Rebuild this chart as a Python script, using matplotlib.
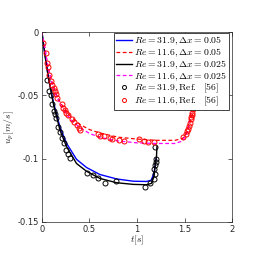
import numpy as np
import matplotlib
matplotlib.use('Agg')
import matplotlib.pyplot as plt

plt.rcParams['mathtext.fontset'] = 'cm'
plt.rcParams['font.family'] = ['DejaVu Sans']

# simulation, Re = 31.9, dx = 0.05
t_b = [0, 0.03, 0.067, 0.12, 0.19, 0.26, 0.364, 0.47, 0.61, 0.785, 0.96, 1.1, 1.15, 1.18, 1.19, 1.2]
u_b = [0, -0.017, -0.035, -0.055, -0.075, -0.088, -0.1005, -0.107, -0.1125, -0.116, -0.1178,
       -0.118, -0.117, -0.111, -0.106, -0.100]
# simulation, Re = 31.9, dx = 0.025
t_k = [0, 0.03, 0.067, 0.12, 0.19, 0.26, 0.364, 0.47, 0.61, 0.785, 0.96, 1.1, 1.152, 1.18, 1.19, 1.205, 1.21]
u_k = [0, -0.017, -0.0355, -0.0565, -0.0775, -0.0906, -0.1038, -0.110, -0.1156, -0.119, -0.1203,
       -0.1206, -0.1195, -0.114, -0.106, -0.0985, -0.0906]
# simulation, Re = 11.6, dx = 0.05
t_r = [0, 0.03, 0.06, 0.1, 0.15, 0.2, 0.3, 0.4, 0.5, 0.6, 0.8, 1.0, 1.2, 1.4, 1.48, 1.52, 1.55, 1.58, 1.6]
u_r = [0, -0.012, -0.026, -0.038, -0.049, -0.0565, -0.0665, -0.073, -0.077, -0.0795, -0.083,
       -0.0845, -0.0855, -0.0855, -0.084, -0.080, -0.073, -0.066, -0.061]
# simulation, Re = 11.6, dx = 0.025
t_m = [0, 0.03, 0.06, 0.1, 0.15, 0.2, 0.3, 0.4, 0.5, 0.6, 0.8, 1.0, 1.2, 1.4, 1.48, 1.52, 1.54, 1.56, 1.57]
u_m = [0, -0.012, -0.026, -0.039, -0.050, -0.058, -0.069, -0.0755, -0.080, -0.083, -0.086,
       -0.0875, -0.088, -0.088, -0.086, -0.081, -0.075, -0.067, -0.062]

# Ref. [56] experiments
t_e1 = [0.056, 0.077, 0.095, 0.109, 0.123, 0.137, 0.147, 0.172, 0.193, 0.214, 0.228, 0.256, 0.277,
        0.298, 0.476, 0.539, 0.585, 0.662, 0.778, 1.089, 1.142, 1.177, 1.19, 1.18, 1.19, 1.198, 1.205, 1.194]
u_e1 = [-0.0376, -0.0465, -0.050, -0.057, -0.062, -0.065, -0.068, -0.075, -0.079, -0.0835, -0.088,
        -0.093, -0.0964, -0.0996, -0.111, -0.113, -0.115, -0.119, -0.118, -0.1224, -0.119, -0.116,
        -0.112, -0.1085, -0.105, -0.1027, -0.1006, -0.0906]
t_e2 = [0.01, 0.039, 0.049, 0.06, 0.077, 0.091, 0.109, 0.13, 0.14, 0.147, 0.154, 0.207, 0.224, 0.242,
        0.256, 0.273, 0.312, 0.336, 0.364, 0.392, 0.4, 0.585, 0.606, 0.655, 0.715, 0.736, 0.813, 0.862,
        1.023, 1.079, 1.117, 1.184, 1.485, 1.513, 1.531, 1.541, 1.548, 1.559, 1.569, 1.573, 1.583,
        1.583, 1.59]
u_e2 = [-0.0087, -0.0168, -0.0244, -0.0276, -0.0336, -0.039, -0.042, -0.044, -0.0468, -0.049, -0.0517,
        -0.057, -0.0596, -0.0617, -0.0636, -0.0657, -0.069, -0.0712, -0.0733, -0.0754, -0.0775, -0.0806,
        -0.0822, -0.0822, -0.0833, -0.0848, -0.0854, -0.0859, -0.0843, -0.0864, -0.087, -0.087, -0.0827,
        -0.0806, -0.078, -0.0762, -0.0738, -0.0717, -0.069, -0.067, -0.0657, -0.0638, -0.0607]

labels = [r'$Re=31.9, \Delta x=0.05$', r'$Re=11.6, \Delta x=0.05$',
          r'$Re=31.9, \Delta x=0.025$', r'$Re=11.6, \Delta x=0.025$',
          r'$Re=31.9, \mathrm{Ref.}\ \ [56]$', r'$Re=11.6, \mathrm{Ref.}\ \ [56]$']

fig = plt.figure(figsize=(2.57, 2.63), dpi=100)
ax = fig.add_axes([0.163, 0.156, 0.740, 0.722])

ax.plot(t_b, u_b, '-', color='blue', lw=1.0, label=labels[0])
ax.plot(t_r, u_r, '--', color='red', lw=0.9, dashes=(3, 2), label=labels[1])
ax.plot(t_k, u_k, '-', color='black', lw=1.0, label=labels[2])
ax.plot(t_m, u_m, '--', color='magenta', lw=0.9, dashes=(3, 2), label=labels[3])
ax.plot(t_e1, u_e1, 'o', mfc='none', mec='black', ms=3.6, mew=0.7, label=labels[4])
ax.plot(t_e2, u_e2, 'o', mfc='none', mec='red', ms=3.6, mew=0.7, label=labels[5])

ax.set_xlim(0, 2)
ax.set_ylim(-0.15, 0)
ax.set_xticks([0, 0.5, 1, 1.5, 2])
ax.set_xticklabels(['0', '0.5', '1', '1.5', '2'])
ax.set_yticks([-0.15, -0.1, -0.05, 0])
ax.set_yticklabels(['-0.15', '-0.1', '-0.05', '0'])
ax.tick_params(direction='in', top=True, right=True, labelsize=6, length=3, width=0.5,
               colors='#262626', pad=2)
for s in ax.spines.values():
    s.set_linewidth(0.5)
    s.set_color('#262626')
ax.set_xlabel(r'$t[s]$', fontsize=7, labelpad=0, color='#262626')
ax.set_ylabel(r'$u_p[m/s]$', fontsize=7, labelpad=1, color='#262626')

leg = ax.legend(loc='upper right', bbox_to_anchor=(0.985, 0.995), fontsize=7,
                handlelength=1.65, handletextpad=0.3, labelspacing=-0.08, borderpad=0.2,
                borderaxespad=0.0, fancybox=False, framealpha=1, markerscale=0.8)
leg.get_frame().set_edgecolor('#262626')
leg.get_frame().set_linewidth(0.6)

fig.savefig('out.png', dpi=100)
